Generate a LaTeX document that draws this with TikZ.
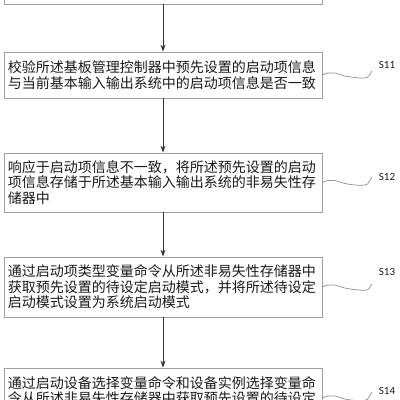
\documentclass[tikz,border=0pt]{standalone}
\usepackage{fontspec}
\newfontfamily\cjk{Noto Sans CJK SC}
\newfontfamily\lblfont{Carlito}
\usetikzlibrary{arrows.meta}
\definecolor{boxline}{HTML}{A0A0A0}
\definecolor{txt}{HTML}{1A1A1A}
\definecolor{arr}{HTML}{333333}
\definecolor{wavec}{HTML}{909090}
\tikzset{
  stepbox/.style={draw=boxline, line width=0.8pt, fill=white, text=txt,
    text width=310pt, align=left, inner xsep=4pt, inner ysep=0pt,
    font=\cjk\fontsize{14}{15.5}\selectfont},
  flow/.style={draw=arr, line width=0.9pt, -{Stealth[length=7pt,width=5pt]}},
  wave/.style={draw=wavec, line width=0.7pt},
  steplabel/.style={text=txt, font=\lblfont\fontsize{11}{13}\selectfont, inner sep=0pt}
}
\begin{document}
\begin{tikzpicture}[x=1pt,y=-1pt]
\fill[white] (0,0) rectangle (400,400);
\useasboundingbox (0,0) rectangle (400,400);
\begin{scope}
\clip (0,0) rectangle (400,400);
\node[stepbox, minimum height=58pt] (s0) at (163,-25) {\mbox{}};
\node[stepbox, minimum height=46pt] (s11) at (163,75)
  {校验所述基板管理控制器中预先设置的启动项信息\\与当前基本输入输出系统中的启动项信息是否一致};
\node[stepbox, minimum height=59pt] (s12) at (163,182.5)
  {响应于启动项信息不一致，将所述预先设置的启动\\项信息存储于所述基本输入输出系统的非易失性存\\储器中};
\node[stepbox, minimum height=60pt] (s13) at (163,287)
  {通过启动项类型变量命令从所述非易失性存储器中\\获取预先设置的待设定启动模式，并将所述待设定\\启动模式设置为系统启动模式};
\node[stepbox, minimum height=60pt] (s14) at (163,398)
  {通过启动设备选择变量命令和设备实例选择变量命\\令从所述非易失性存储器中获取预先设置的待设定\\\mbox{}};

\draw[flow] (s0.south) -- (s11.north);
\draw[flow] (s11.south) -- (s12.north);
\draw[flow] (s12.south) -- (s13.north);
\draw[flow] (s13.south) -- (s14.north);

\node[steplabel] (l11) at (387,65) {S11};
\node[steplabel] (l12) at (387,177) {S12};
\node[steplabel] (l13) at (387,272) {S13};
\node[steplabel] (l14) at (387,391) {S14};

\coordinate (w11) at (372,71);
\coordinate (w12) at (372,177);
\coordinate (w13) at (372,284);
\coordinate (w14) at (372,392);

\draw[wave] (s11.east) .. controls +(7,-4) and +(-8,-3) .. +(22,1)
  .. controls +(30,5) and +(-5,5) .. (w11);
\draw[wave] (s12.east) .. controls +(7,-4) and +(-8,-3) .. +(22,1)
  .. controls +(30,5) and +(-5,5) .. (w12);
\draw[wave] (s13.east) .. controls +(7,-4) and +(-8,-3) .. +(22,1)
  .. controls +(30,5) and +(-5,5) .. (w13);
\draw[wave] (s14.east) .. controls +(7,-4) and +(-8,-3) .. +(22,1)
  .. controls +(30,5) and +(-5,5) .. (w14);
\end{scope}
\end{tikzpicture}
\end{document}
